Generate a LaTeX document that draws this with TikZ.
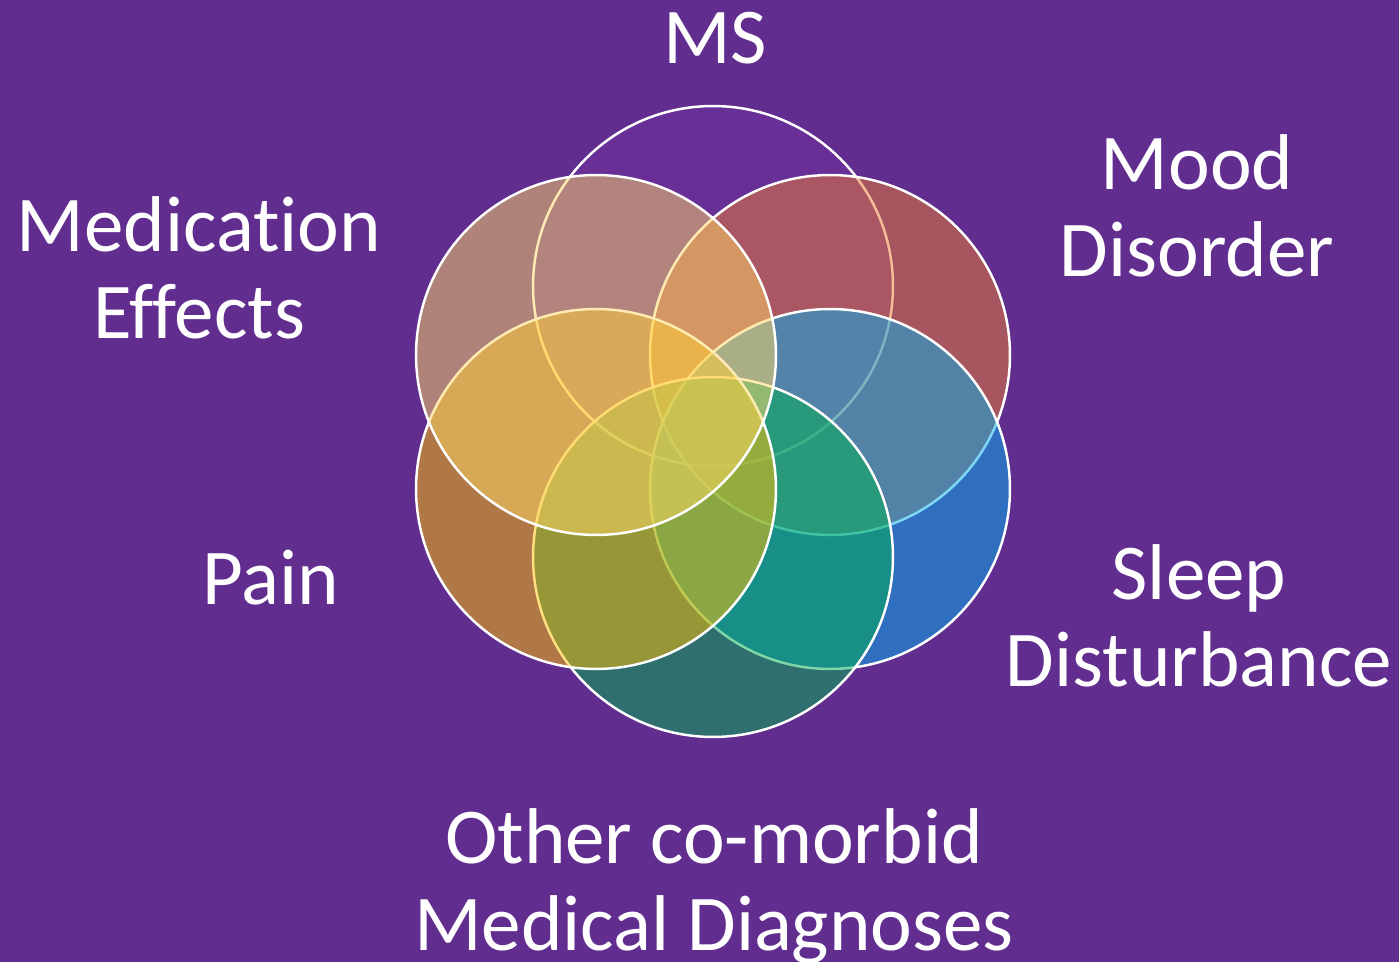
\documentclass[tikz,border=0pt]{standalone}
\usepackage{fontspec}
\setmainfont[Ligatures=NoCommon]{Carlito}
\usepackage{tikz}
\definecolor{VennBack}{HTML}{612E8F}
\definecolor{VennPurple}{HTML}{7030A0}
\definecolor{VennOrange}{HTML}{ED7D31}
\definecolor{VennBlue}{HTML}{00B0F0}
\definecolor{VennGreen}{HTML}{00B050}
\definecolor{VennGold}{HTML}{FFC000}
\definecolor{VennSand}{HTML}{FFD966}

\tikzset{
  venn/.style={circle, draw=white, line width=1.4pt, fill opacity=0.5,
    minimum size=7.2cm, inner sep=0pt},
  tag/.style={text=white, align=center, inner sep=0pt,
    font=\fontsize{45}{49.5}\selectfont}
}

\begin{document}
\begin{tikzpicture}[x=0.02cm, y=-0.02cm]
          % Background
          \fill[VennBack] (0,0) rectangle (1399,962);
          \useasboundingbox (0,0) rectangle (1399,962);

          % Circles
          \node[venn, fill=VennPurple] (ms) at (713,286) {};
          \node[venn, fill=VennOrange] (mood) at (830,355) {};
          \node[venn, fill=VennBlue] (sleep) at (830,489) {};
          \node[venn, fill=VennGreen] (other) at (713,557) {};
          \node[venn, fill=VennGold] (pain) at (596,489) {};
          \node[venn, fill=VennSand] (meds) at (596,355) {};

          % Labels
          \node[tag] (mslabel) at (715,38) {MS};
          \node[tag] (moodlabel) at (1197,206) {Mood\\Disorder};
          \node[tag] (sleeplabel) at (1199,616) {Sleep\\Disturbance};
          \node[tag] (otherlabel) at (714,886) {Other co-morbid\\Medical Diagnoses};
          \node[tag] (painlabel) at (271,578) {Pain};
          \node[tag] (medslabel) at (199,268) {Medication\\Effects};
        \end{tikzpicture}
\end{document}
